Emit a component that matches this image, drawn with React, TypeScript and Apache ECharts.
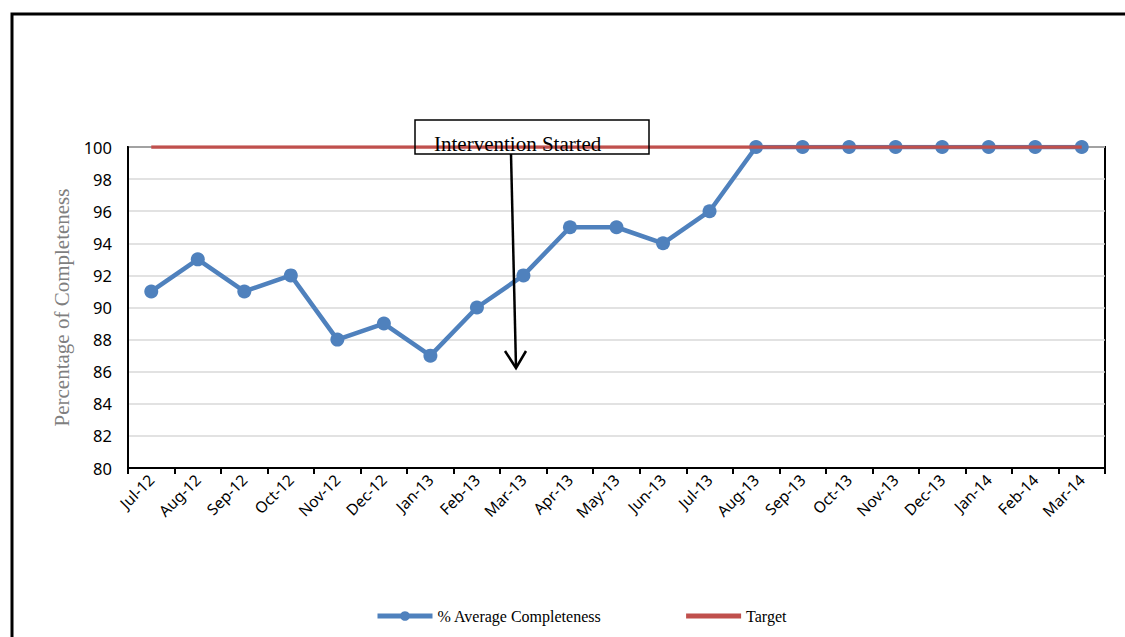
import React, { useEffect, useRef } from "react";
import * as echarts from "echarts";

const months = [
  "Jul-12", "Aug-12", "Sep-12", "Oct-12", "Nov-12", "Dec-12", "Jan-13", "Feb-13", "Mar-13",
  "Apr-13", "May-13", "Jun-13", "Jul-13", "Aug-13", "Sep-13", "Oct-13", "Nov-13", "Dec-13",
  "Jan-14", "Feb-14", "Mar-14",
];
const completeness = [91, 93, 91, 92, 88, 89, 87, 90, 92, 95, 95, 94, 96, 100, 100, 100, 100, 100, 100, 100, 100];
const target = [100, 100, 100, 100, 100, 100, 100, 100, 100, 100, 100, 100, 100, 100, 100, 100, 100, 100, 100, 100, 100];
const yTitle = "Percentage of Completeness";
const annotation = "Intervention Started";

export default function App() {
  const ref = useRef<HTMLDivElement>(null);
  useEffect(() => {
    if (!ref.current) return;
    const chart = echarts.init(ref.current, null, { renderer: "svg" });
    const serif = "'Liberation Serif', 'Times New Roman', serif";
    const sans = "'Noto Sans', 'Open Sans', sans-serif";
    chart.setOption({
      animation: false,
      backgroundColor: "#fff",
      grid: {
        left: 128, right: 20, top: 147, bottom: 169,
        show: true, borderColor: "#000", borderWidth: 2, backgroundColor: "transparent",
      },
      legend: {
        left: 375, top: 608, padding: 0, itemWidth: 55, itemHeight: 12, itemGap: 82,
        textStyle: { fontFamily: serif, fontSize: 16, color: "#000" },
        data: [
          { name: "% Average Completeness", lineStyle: { width: 5 } },
          { name: "Target", itemStyle: { opacity: 0 }, lineStyle: { width: 5 } },
        ],
      },
      xAxis: {
        type: "category",
        data: months,
        boundaryGap: true,
        axisLine: { lineStyle: { color: "#000", width: 2 } },
        axisTick: { show: true, length: 6, lineStyle: { color: "#000", width: 2 } },
        axisLabel: { rotate: 45, fontFamily: sans, fontSize: 15.5, color: "#000", margin: 9, interval: 0 },
      },
      yAxis: {
        type: "value",
        min: 80, max: 100, interval: 2,
        name: yTitle,
        nameLocation: "middle",
        nameGap: 55,
        nameTextStyle: { fontFamily: serif, fontSize: 21, color: "#7f7f7f" },
        axisLine: { show: true, lineStyle: { color: "#000", width: 2 } },
        axisTick: { show: false },
        axisLabel: { fontFamily: sans, fontSize: 16.5, color: "#000", margin: 16 },
        splitLine: { lineStyle: { color: "#d9d9d9", width: 1.5 } },
      },
      series: [
        {
          name: "% Average Completeness",
          type: "line",
          data: completeness,
          symbol: "circle",
          symbolSize: 14,
          itemStyle: { color: "#4f81bd" },
          lineStyle: { color: "#4f81bd", width: 4.5 },
          z: 2,
        },
        {
          name: "Target",
          type: "line",
          data: target,
          symbol: "none",
          itemStyle: { color: "#c0504d" },
          lineStyle: { color: "#c0504d", width: 3.5 },
          z: 3,
        },
      ],
      graphic: [
        {
          type: "rect", z: 10,
          shape: { x: 12, y: 14, width: 1300, height: 800 },
          style: { fill: "none", stroke: "#000", lineWidth: 3 },
        },
        {
          type: "rect", z: 10,
          shape: { x: 415, y: 120, width: 234, height: 34 },
          style: { fill: "none", stroke: "#000", lineWidth: 1.5 },
        },
        {
          type: "text", z: 11, x: 434, y: 144,
          style: { text: annotation, fontFamily: serif, fontSize: 21, fill: "#000", textVerticalAlign: "middle" },
        },
        {
          type: "line", z: 11,
          shape: { x1: 511, y1: 154, x2: 516, y2: 367 },
          style: { stroke: "#000", lineWidth: 2.5 },
        },
        {
          type: "polyline", z: 11,
          shape: { points: [[505, 351], [516, 368], [526, 351]] },
          style: { stroke: "#000", lineWidth: 2.5, fill: "none" },
        },
      ],
    });
    return () => chart.dispose();
  }, []);
  return <div ref={ref} style={{ position: "fixed", left: 0, top: 0, width: 1125, height: 637 }} />;
}
